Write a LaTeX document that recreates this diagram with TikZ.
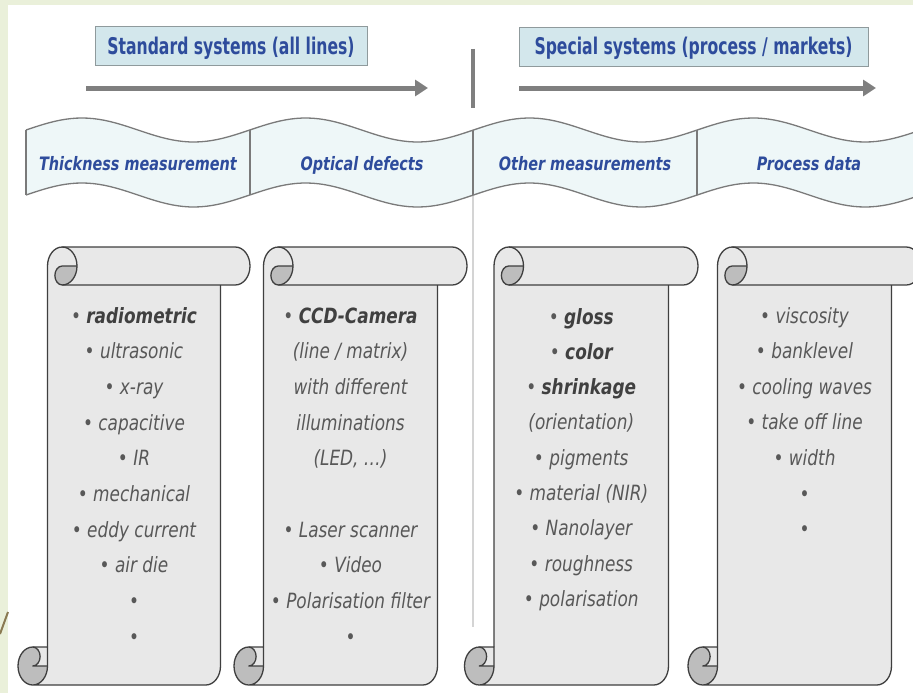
\documentclass[tikz,border=0pt]{standalone}
\usepackage{fontspec}
\usetikzlibrary{arrows.meta}
\newfontfamily\hdrfont[FakeStretch=0.68]{DejaVu Sans}
\newfontfamily\bnrfont[FakeStretch=0.78]{DejaVu Sans}
\newfontfamily\scrfont[FakeStretch=0.805]{DejaVu Sans}
\definecolor{bggreen}{HTML}{EAF0DA}
\definecolor{hdrfill}{HTML}{D3E7EC}
\definecolor{hdrline}{HTML}{8F9A9C}
\definecolor{txtblue}{HTML}{2E4C9C}
\definecolor{bnrfill}{HTML}{EEF7F8}
\definecolor{bnrline}{HTML}{7A7A7A}
\definecolor{arrgray}{HTML}{7F7F7F}
\definecolor{sepgray}{HTML}{D4D4D4}
\definecolor{scrfill}{HTML}{E8E8E8}
\definecolor{curlfill}{HTML}{BDBDBD}
\definecolor{scrline}{HTML}{3F3F3F}
\definecolor{scrtext}{HTML}{585858}
\definecolor{scrbold}{HTML}{404040}
\definecolor{brownline}{HTML}{8A7A52}
\def\sa{29.5}\def\sc{38}
\newcommand\bitem[1]{\textcolor{scrbold}{\bfseries #1}}
% l t r b
\newcommand\drawscroll[4]{%
 \fill[scrfill] ({#1+\sa},{#2+\sc/2}) arc[start angle=180,end angle=270,x radius=\sa/2,y radius=\sc/2]
   -- ({#3-\sa/2},#2) arc[start angle=270,end angle=450,x radius=\sa/2,y radius=\sc/2]
   -- ({#3-\sa},{#2+\sc}) -- ({#3-\sa},{#4-\sc/2}) arc[start angle=0,end angle=90,x radius=\sa/2,y radius=\sc/2]
   -- ({#1+\sa/2},#4) -- ({#1+\sa/2},{#4-\sc}) -- ({#1+\sa},{#4-\sc}) -- cycle;
 \fill[scrfill] ({#1+\sa/2},{#4-\sc/2}) ellipse[x radius=\sa/2,y radius=\sc/2];
 \fill[curlfill] ({#1+\sa},{#4-\sc/2}) arc[start angle=0,end angle=270,x radius=\sa/2,y radius=\sc/2]
   arc[start angle=270,end angle=450,x radius=\sa/4,y radius=\sc/4] -- cycle;
 \fill[curlfill] ({#1+2*\sa},{#2+\sc/2}) arc[start angle=0,end angle=90,x radius=\sa/2,y radius=\sc/2]
   arc[start angle=90,end angle=270,x radius=\sa/4,y radius=\sc/4] -- cycle;
 \draw[scrstroke] ({#1+\sa},{#4-\sc}) -- ({#1+\sa},{#2+\sc/2}) arc[start angle=180,end angle=270,x radius=\sa/2,y radius=\sc/2]
   -- ({#3-\sa/2},#2) arc[start angle=270,end angle=450,x radius=\sa/2,y radius=\sc/2] -- ({#1+1.5*\sa},{#2+\sc});
 \draw[scrstroke] ({#3-\sa},{#2+\sc}) -- ({#3-\sa},{#4-\sc/2}) arc[start angle=0,end angle=90,x radius=\sa/2,y radius=\sc/2]
   -- ({#1+\sa/2},#4) arc[start angle=90,end angle=270,x radius=\sa/2,y radius=\sc/2] -- ({#1+\sa},{#4-\sc})
   -- ({#1+\sa},{#4-\sc/2}) arc[start angle=0,end angle=90,x radius=\sa/2,y radius=\sc/2];
 \draw[scrstroke] ({#1+1.5*\sa},#2) arc[start angle=270,end angle=450,x radius=\sa/2,y radius=\sc/2]
   arc[start angle=90,end angle=270,x radius=\sa/4,y radius=\sc/4] -- ({#1+2*\sa},{#2+\sc/2});
 \draw[scrstroke] ({#1+\sa/2},{#4-\sc}) arc[start angle=270,end angle=450,x radius=\sa/4,y radius=\sc/4] -- ({#1+\sa},{#4-\sc/2});
}
\begin{document}
\begin{tikzpicture}[x=1pt,y=-1pt,
  hdrbox/.style={draw=hdrline,fill=hdrfill,line width=1pt,minimum height=39pt,inner sep=0pt},
  hdrtext/.style={text=txtblue,font=\hdrfont\fontsize{23}{27}\selectfont\bfseries,anchor=base,inner sep=0pt},
  bnrtext/.style={text=txtblue,font=\bnrfont\fontsize{18.5}{22}\selectfont\bfseries\itshape,anchor=base,inner sep=0pt},
  bigarrow/.style={draw=arrgray,line width=5pt,-{Triangle[length=13pt,width=16pt]}},
  scrstroke/.style={draw=scrline,line width=1.3pt,line join=round},
  scrtxt/.style={text=scrtext,font=\scrfont\fontsize{21}{25}\selectfont\itshape,anchor=base,inner sep=0pt}]
\useasboundingbox (0,0) rectangle (913,693);
\clip (0,0) rectangle (913,693);
\fill[bggreen] (0,0) rectangle (913,693);
\fill[white] (8,5) rectangle (913,693);
\draw[brownline,line width=2pt] (8,612) -- (0,634);

% header boxes
\node[hdrbox,minimum width=272pt] (h1) at (231,46.5) {};
\node[hdrbox,minimum width=349pt] (h2) at (693.5,47) {};
\node[hdrtext] (h1t) at (231,55) {Standard systems (all lines)};
\node[hdrtext] (h2t) at (693.5,55) {Special systems (process / markets)};

% arrows and separator
\coordinate (a1s) at (86,88); \coordinate (a1e) at (428,88);
\coordinate (a2s) at (519,88); \coordinate (a2e) at (876,88);
\draw[bigarrow] (a1s) -- (a1e);
\draw[bigarrow] (a2s) -- (a2e);
\coordinate (v1) at (473,49); \coordinate (v2) at (473,108);
\draw[arrgray,line width=4pt] (v1) -- (v2);
\coordinate (t1) at (473,196); \coordinate (t2) at (473,627);
\draw[sepgray,line width=1.5pt] (t1) -- (t2);

% banner
\fill[bnrfill] plot[domain=26:921,samples=160] (\x,{130-12*sin(((\x-26)/223.75)*360)})
  -- plot[domain=921:26,samples=160] (\x,{195-12*sin(((\x-26)/223.75)*360)}) -- cycle;
\draw[bnrline,line width=1.3pt] plot[domain=26:921,samples=160] (\x,{130-12*sin(((\x-26)/223.75)*360)});
\draw[bnrline,line width=1.3pt] plot[domain=26:921,samples=160] (\x,{195-12*sin(((\x-26)/223.75)*360)});
\foreach \xx in {26,250,473,697}{\draw[bnrline,line width=1.3pt] (\xx,130) -- (\xx,195);}
\node[bnrtext] (b1) at (138,170) {Thickness measurement};
\node[bnrtext] (b2) at (362,170) {Optical defects};
\node[bnrtext] (b3) at (585,170) {Other measurements};
\node[bnrtext] (b4) at (809,170) {Process data};

% scrolls
\drawscroll{18}{247}{250}{685}
\drawscroll{234}{247}{467}{685}
\drawscroll{464.5}{247}{698}{685}
\drawscroll{688}{247}{921}{685}

\foreach \t [count=\i] in {{• \bitem{radiometric}},{• ultrasonic},{• x-ray},{• capacitive},{• IR},{• mechanical},{• eddy current},{• air die},{•},{•}}
  \node[scrtxt] (s1l\i) at (134,{323+35.7*(\i-1)}) {\t};
\foreach \k/\t in {1/{• \bitem{CCD-Camera}},2/{(line / matrix)},3/{with different},4/{illuminations},5/{(LED, …)},7/{• Laser scanner},8/{• Video},9/{• Polarisation filter},10/{•}}
  \node[scrtxt] (s2l\k) at (350.5,{323+35.7*(\k-1)}) {\t};
\foreach \t [count=\i] in {{• \bitem{gloss}},{• \bitem{color}},{• \bitem{shrinkage}},{(orientation)},{• pigments},{• material (NIR)},{• Nanolayer},{• roughness},{• polarisation}}
  \node[scrtxt] (s3l\i) at (581.25,{324+35.3*(\i-1)}) {\t};
\foreach \t [count=\i] in {{• viscosity},{• banklevel},{• cooling waves},{• take off line},{• width},{•},{•}}
  \node[scrtxt] (s4l\i) at (804.5,{323+35.6*(\i-1)}) {\t};
\end{tikzpicture}
\end{document}
